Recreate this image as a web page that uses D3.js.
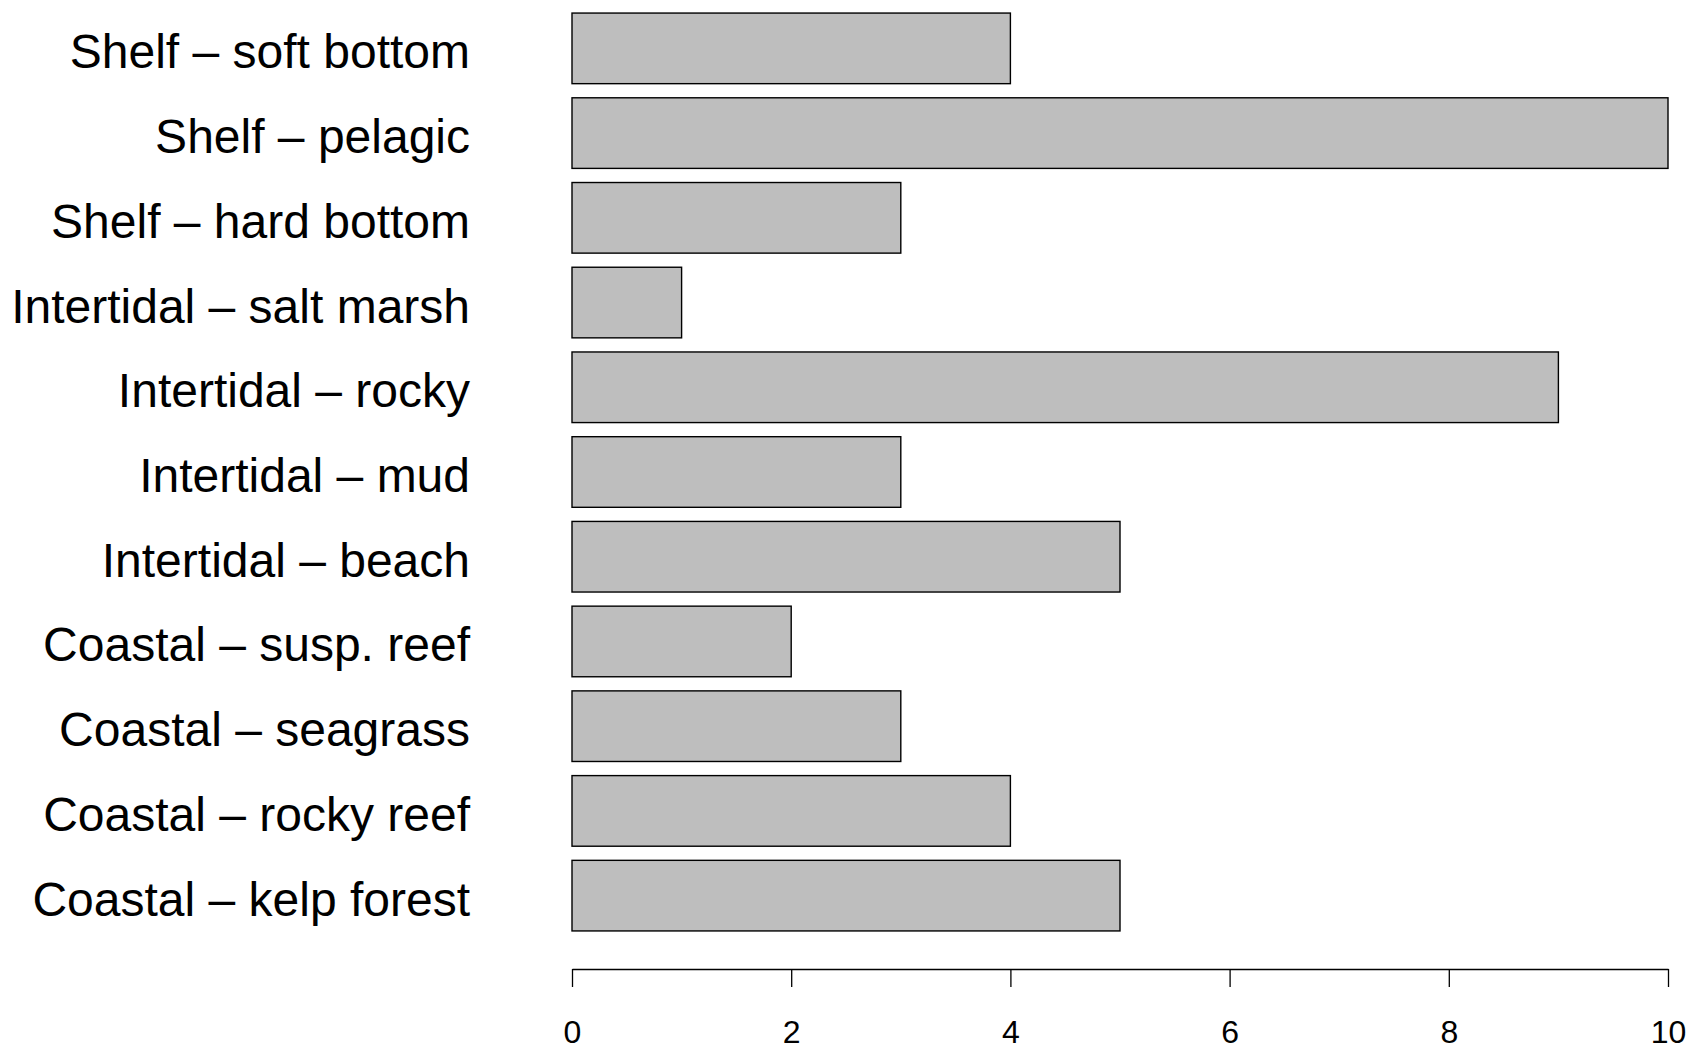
<!DOCTYPE html>
<meta charset="utf-8">
<script src="https://d3js.org/d3.v7.min.js"></script>
<style>
  body { margin: 0; background: #fff; }
</style>
<div id="chart"></div>
<script>
  // habitat categories, bottom to top as in the plot
  var habitats = [
    "Coastal \u2013 kelp forest",
    "Coastal \u2013 rocky reef",
    "Coastal \u2013 seagrass",
    "Coastal \u2013 susp. reef",
    "Intertidal \u2013 beach",
    "Intertidal \u2013 mud",
    "Intertidal \u2013 rocky",
    "Intertidal \u2013 salt marsh",
    "Shelf \u2013 hard bottom",
    "Shelf \u2013 pelagic",
    "Shelf \u2013 soft bottom"
  ];
  var counts = [5, 4, 3, 2, 5, 3, 9, 1, 3, 10, 4];
  var xTicks = [0, 2, 4, 6, 8, 10];

  var W = 1691, H = 1044;

  var svg = d3.select("#chart").append("svg")
    .attr("width", W)
    .attr("height", H)
    .style("display", "block");

  // x: counts
  var x = d3.scaleLinear()
    .domain([0, 10])
    .range([572, 1668]);

  // y: R barplot style, width 1 with space 0.2
  var y = d3.scaleBand()
    .domain(habitats.slice().reverse())
    .range([6, 938])
    .paddingInner(1 / 6)
    .paddingOuter(1 / 12);

  svg.append("g")
    .selectAll("rect")
    .data(habitats)
    .enter().append("rect")
      .attr("x", x(0))
      .attr("y", function(d) { return y(d); })
      .attr("width", function(d, i) { return x(counts[i]) - x(0); })
      .attr("height", y.bandwidth())
      .attr("fill", "#bebebe")
      .attr("stroke", "#000")
      .attr("stroke-width", 1.4);

  // category labels
  svg.append("g")
    .selectAll("text")
    .data(habitats)
    .enter().append("text")
      .attr("x", 470)
      .attr("y", function(d) { return y(d) + y.bandwidth() / 2 + 20; })
      .attr("text-anchor", "end")
      .style("font-family", "'Liberation Sans', Arial, sans-serif")
      .style("font-size", "48px")
      .text(function(d) { return d; });

  // x axis
  var axis = d3.axisBottom(x)
    .tickValues(xTicks)
    .tickSize(18)
    .tickPadding(34)
    .tickSizeOuter(0);

  var gx = svg.append("g")
    .attr("transform", "translate(0,969)")
    .call(axis);

  gx.select(".domain").attr("stroke-width", 1.3);
  gx.selectAll(".tick line").attr("stroke-width", 1.3);
  gx.selectAll(".tick text")
    .attr("dy", null)
    .attr("y", 74)
    .style("font-family", "'Liberation Sans', Arial, sans-serif")
    .style("font-size", "32px")
    .attr("fill", "#000");
</script>
